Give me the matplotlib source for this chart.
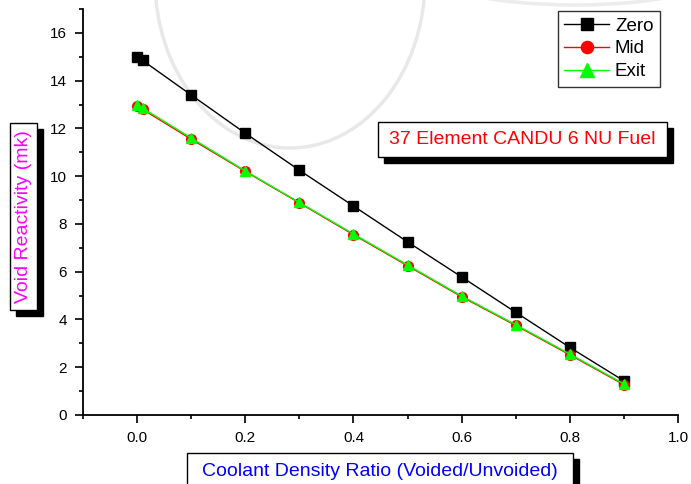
import matplotlib
matplotlib.use("Agg")
import matplotlib.pyplot as plt
from matplotlib.patches import Rectangle, Arc
from matplotlib.ticker import MultipleLocator

plt.rcParams['font.family'] = ['Liberation Sans', 'DejaVu Sans']

# data
density_ratio = [0.0, 0.01, 0.1, 0.2, 0.3, 0.4, 0.5, 0.6, 0.7, 0.8, 0.9]
zero = [15.0, 14.85, 13.4, 11.8, 10.25, 8.75, 7.25, 5.78, 4.3, 2.83, 1.43]
mid = [12.95, 12.8, 11.55, 10.2, 8.88, 7.55, 6.25, 4.95, 3.75, 2.52, 1.27]
exit_ = [13.0, 12.85, 11.6, 10.22, 8.9, 7.58, 6.28, 4.98, 3.78, 2.55, 1.3]

W, H = 691, 484
fig = plt.figure(figsize=(W / 100, H / 100), dpi=100)
ax = fig.add_axes([83 / W, 1 - 415 / H, (678 - 83) / W, (415 - 9) / H])
ax.patch.set_alpha(0)

# faint watermark arcs in the background
def px(x, y):
    return x / W, 1 - y / H

fig.patches.append(Arc(px(290, -20), 270 / W, 336 / H, theta1=180, theta2=360,
                       transform=fig.transFigure, color='#e8e8e8', lw=2.5, zorder=-5))
fig.patches.append(Arc(px(575, -30), 300 / W, 70 / H, theta1=180, theta2=360,
                       transform=fig.transFigure, color='#ececec', lw=2.5, zorder=-5))

ax.plot(density_ratio, zero, '-s', color='black', lw=1, ms=6.5, label='Zero')
ax.plot(density_ratio, mid, '-o', color='red', lw=1, ms=7, label='Mid')
ax.plot(density_ratio, exit_, '-^', color='#00ff00', lw=1, ms=7.5, label='Exit')

ax.set_xlim(-0.1, 1.0)
ax.set_ylim(0, 17)
ax.xaxis.set_major_locator(MultipleLocator(0.2))
ax.xaxis.set_minor_locator(MultipleLocator(0.1))
ax.yaxis.set_major_locator(MultipleLocator(2))
ax.yaxis.set_minor_locator(MultipleLocator(1))
ax.xaxis.set_major_formatter(plt.FormatStrFormatter('%.1f'))
ax.spines['top'].set_visible(False)
ax.spines['right'].set_visible(False)
ax.spines['left'].set_linewidth(1.3)
ax.spines['bottom'].set_linewidth(1.3)
ax.tick_params(which='major', direction='out', length=5.5, width=1.2, labelsize=11, pad=6)
ax.tick_params(which='minor', direction='out', length=3, width=1.2)

leg = ax.legend(loc='upper right', bbox_to_anchor=(660 / W, 1 - 11 / H),
                bbox_transform=fig.transFigure, fontsize=13.5, frameon=True,
                fancybox=False, edgecolor='black', handlelength=2.4,
                handletextpad=0.3, borderpad=0.35, labelspacing=0.3,
                borderaxespad=0, markerscale=1.25)
leg.get_frame().set_linewidth(1)


def shadow_box(x0, y0, x1, y1, text, color, rotation=0, size=14, off=6):
    # black drop shadow, then white box with black edge, then text
    fx0, fy1 = px(x0, y0)
    fx1, fy0 = px(x1, y1)
    sx, sy = off / W, off / H
    fig.patches.append(Rectangle((fx0 + sx, fy0 - sy), fx1 - fx0, fy1 - fy0,
                                 transform=fig.transFigure, facecolor='black',
                                 edgecolor='black', zorder=3))
    fig.patches.append(Rectangle((fx0, fy0), fx1 - fx0, fy1 - fy0,
                                 transform=fig.transFigure, facecolor='white',
                                 edgecolor='black', lw=1, zorder=4))
    fig.text((fx0 + fx1) / 2, (fy0 + fy1) / 2, text, color=color, fontsize=size,
             rotation=rotation, ha='center', va='center', zorder=5)


shadow_box(378, 122, 667, 157, '37 Element CANDU 6 NU Fuel', 'red')
shadow_box(10, 123, 37, 310, 'Void Reactivity (mk)', 'magenta', rotation=90)
shadow_box(187, 453, 573, 490, 'Coolant Density Ratio (Voided/Unvoided)', 'blue')

fig.savefig('out.png', dpi=100)
